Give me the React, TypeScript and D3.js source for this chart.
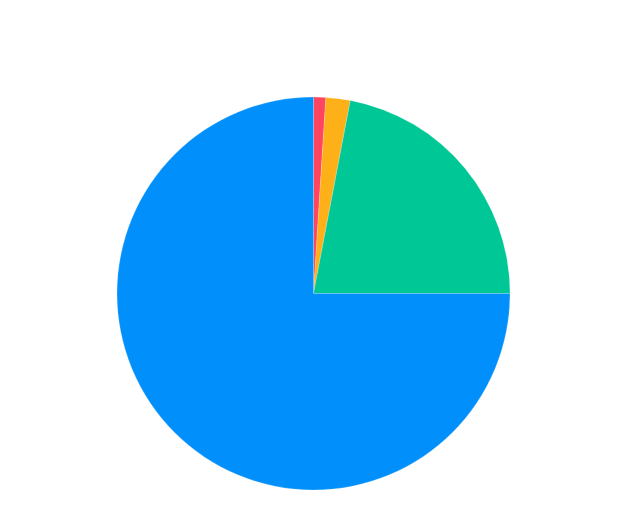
import { useRef, useEffect } from 'react'
import * as d3 from 'd3'

const labels = ['Series A', 'Series B', 'Series C', 'Series D']
const values = [1, 2, 22, 75]
const colors = ['#FF4560', '#FEB019', '#00C796', '#008FFB']

function App() {
  const ref = useRef<SVGSVGElement>(null)

  useEffect(() => {
    const width = 631, height = 514
    const cx = 313.5, cy = 293.5, radius = 196.5
    const svg = d3.select(ref.current)
    svg.selectAll('*').remove()

    const pie = d3.pie<number>().sort(null).value(d => d)
    const arc = d3.arc<d3.PieArcDatum<number>>().innerRadius(0).outerRadius(radius)

    const g = svg.append('g').attr('transform', `translate(${cx},${cy})`)
    g.selectAll('path')
      .data(pie(values))
      .enter()
      .append('path')
      .attr('d', arc)
      .attr('fill', (d, i) => colors[i])
      .attr('stroke', 'rgba(255,255,255,0.35)')
      .attr('stroke-width', 0.5)
      .append('title')
      .text((d, i) => `${labels[i]}: ${values[i]}`)

    svg.attr('width', width).attr('height', height)
  }, [])

  return (
    <div style={{ position: 'absolute', left: 0, top: 0 }}>
      <svg ref={ref} width={631} height={514}></svg>
    </div>
  )
}

export default App
